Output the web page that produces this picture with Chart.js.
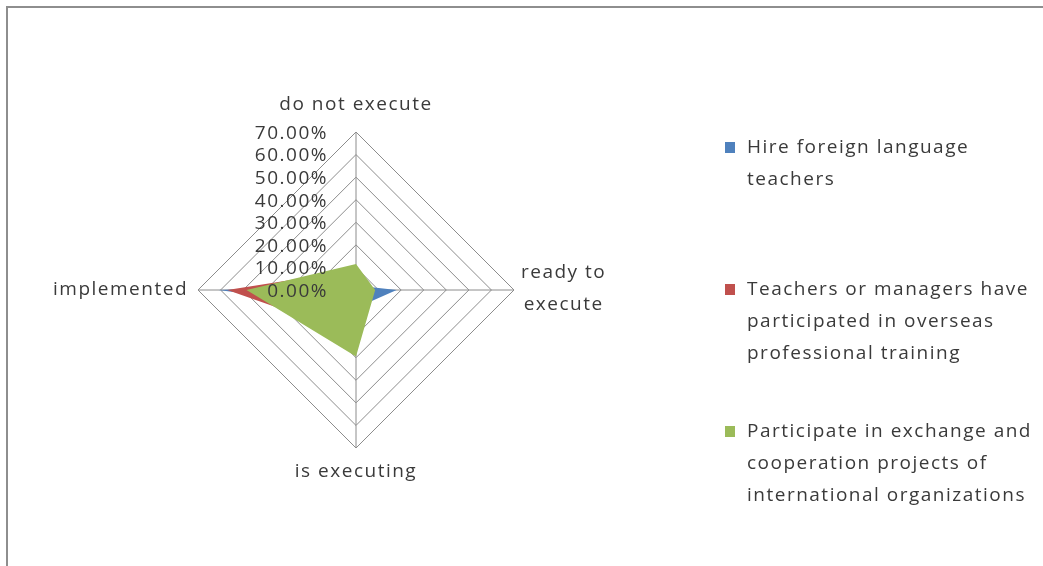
<!DOCTYPE html>
<html>
<head>
<meta charset="utf-8">
<script src="https://cdn.jsdelivr.net/npm/chart.js@4/dist/chart.umd.min.js"></script>
<style>
  html, body { margin: 0; padding: 0; background: #ffffff; overflow: hidden; }
  #wrap { position: relative; width: 1043px; height: 566px; }
  #frame { position: absolute; left: 6px; top: 6px; width: 1060px; height: 600px;
           border-left: 2px solid #8e8e8e; border-top: 2px solid #8e8e8e; box-sizing: border-box; }
  canvas { position: absolute; left: 0; top: 0; }
</style>
</head>
<body>
<div id="wrap">
  <div id="frame"></div>
  <canvas id="c" width="1043" height="566"></canvas>
</div>
<script>
// ---- data ----
const categories = ['do not execute', 'ready to execute', 'is executing', 'implemented'];
const seriesNames = [
  'Hire foreign language teachers',
  'Teachers or managers have participated in overseas professional training',
  'Participate in exchange and cooperation projects of international organizations'
];
const hireForeignTeachers = [2, 18, 8, 61];
const overseasTraining = [9, 3, 20, 57];
const exchangeProjects = [11.5, 8.5, 29.5, 48.5];
const tickValues = [0, 10, 20, 30, 40, 50, 60, 70];

const colors = ['#4F81BD', '#C0504D', '#9BBB59'];
const FONT = '19px "Open Sans"';
const TEXT = '#3a3a3a';
const SPACING = '1.5px';

function wrapLines(ctx, text, maxW) {
  const words = text.split(' ');
  const lines = [];
  let cur = '';
  for (const w of words) {
    const test = cur ? cur + ' ' + w : w;
    if (cur && ctx.measureText(test).width > maxW) { lines.push(cur); cur = w; }
    else cur = test;
  }
  if (cur) lines.push(cur);
  return lines;
}

const decorPlugin = {
  id: 'decor',
  afterDatasetsDraw(chart) {
    const ctx = chart.ctx;
    const s = chart.scales.r;
    ctx.save();
    ctx.font = FONT;
    ctx.fillStyle = TEXT;
    ctx.letterSpacing = SPACING;
    ctx.textBaseline = 'middle';

    // tick labels, right aligned left of the vertical axis
    ctx.textAlign = 'right';
    s.ticks.forEach(t => {
      const y = s.yCenter - s.getDistanceFromCenterForValue(t.value) + 1.5;
      ctx.fillText(t.value.toFixed(2) + '%', s.xCenter - 28, y);
    });

    // point labels
    const R = s.drawingArea;
    const lh = 32;
    // top
    let p = s.getPointPosition(0, R + 27);
    ctx.textAlign = 'center';
    ctx.fillText(categories[0], p.x, p.y);
    // right
    p = s.getPointPosition(1, R + 7);
    let lines = wrapLines(ctx, categories[1], 105);
    let bw = Math.max(...lines.map(l => ctx.measureText(l).width));
    lines.forEach((l, i) => {
      ctx.fillText(l, p.x + bw / 2, p.y - 1 + (i - (lines.length - 1) / 2) * lh);
    });
    // bottom
    p = s.getPointPosition(2, R + 24);
    ctx.fillText(categories[2], p.x, p.y);
    // left
    p = s.getPointPosition(3, R + 10);
    ctx.textAlign = 'right';
    ctx.fillText(categories[3], p.x, p.y);

    // legend
    ctx.textAlign = 'left';
    chart.data.datasets.forEach((ds, i) => {
      const y0 = 148 + i * 142;
      ctx.fillStyle = ds.backgroundColor;
      ctx.fillRect(725, y0 - 6, 10, 11);
      ctx.fillStyle = TEXT;
      const ls = wrapLines(ctx, ds.label, 305);
      ls.forEach((l, j) => ctx.fillText(l, 747, y0 + j * 31.6));
    });
    ctx.restore();
  }
};

const datasets = [hireForeignTeachers, overseasTraining, exchangeProjects].map((d, i) => ({
  label: seriesNames[i],
  data: d,
  backgroundColor: colors[i],
  borderColor: colors[i],
  borderWidth: 0,
  pointRadius: 0,
  fill: true,
  order: 2 - i
}));

new Chart(document.getElementById('c'), {
  type: 'radar',
  data: { labels: categories, datasets },
  options: {
    responsive: false,
    animation: false,
    events: [],
    layout: { padding: { left: 198, right: 529, top: 132, bottom: 118 } },
    plugins: { legend: { display: false }, tooltip: { enabled: false } },
    elements: { line: { tension: 0, borderWidth: 0 } },
    scales: {
      r: {
        min: tickValues[0],
        max: tickValues[tickValues.length - 1],
        ticks: { display: false, stepSize: tickValues[1] - tickValues[0] },
        grid: { color: '#8c8c8c', lineWidth: 1 },
        angleLines: { color: '#8c8c8c', lineWidth: 1 },
        pointLabels: { display: false }
      }
    }
  },
  plugins: [decorPlugin]
});
</script>
</body>
</html>
